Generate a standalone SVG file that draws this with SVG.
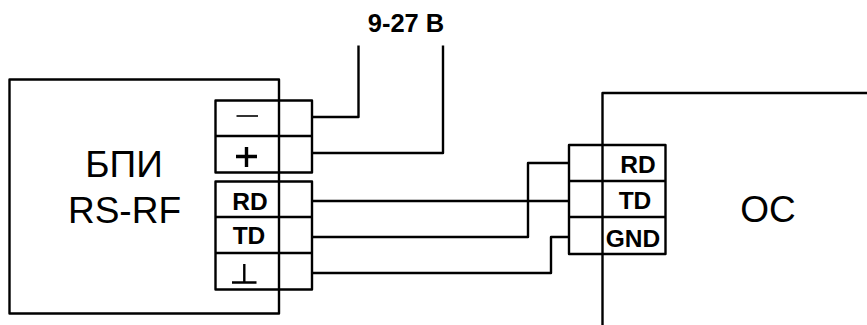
<svg xmlns="http://www.w3.org/2000/svg" width="867" height="325" viewBox="0 0 867 325">
<style>
.l{fill:none;stroke:#000;stroke-width:2.4;stroke-linejoin:round}
.t{font-family:"Liberation Sans",Arial,sans-serif;fill:#000;text-anchor:middle}
.b{font-size:37px}
.s{font-size:24.500px;font-weight:bold}
.v{font-size:25.500px;font-weight:bold}
</style>
<rect width="867" height="325" fill="#fff"/>
<g id="connectors">
<path class="l" d="M312 117H358.500V45.500"/>
<path class="l" d="M312 153H443V45.500"/>
<path class="l" d="M312 201H569"/>
<path class="l" d="M312 237H528V163H569"/>
<path class="l" d="M312 273H551V237H569"/>
</g>
<g id="power-label"><text class="t v" x="406" y="32">9-27 В</text></g>
<g id="bpi">
<rect class="l" x="9.500" y="79.500" width="269.500" height="234"/>
<text class="t b" x="124" y="177">БПИ</text>
<text class="t b" x="124.500" y="223">RS-RF</text>
</g>
<g id="bpi-power-terminal">
<rect class="l" x="215.500" y="100.500" width="96.500" height="72"/>
<path class="l" d="M215.500 136H312"/>
<path d="M236.500 116H258" fill="none" stroke="#000" stroke-width="1.600"/>
<path d="M236 156.500H257M246.500 147V167" fill="none" stroke="#000" stroke-width="3.400"/>
</g>
<g id="bpi-data-terminal">
<rect class="l" x="215.500" y="181.500" width="96.500" height="108"/>
<path class="l" d="M215.500 217H312M215.500 253H312"/>
<text class="t s" x="250" y="210">RD</text>
<text class="t s" x="249" y="244">TD</text>
<path class="l" d="M232 282.500H256.500M244.300 264V282.500"/>
</g>
<g id="os">
<path class="l" d="M867 93H602.500V325"/>
<text class="t b" x="768" y="221.500">ОС</text>
</g>
<g id="os-terminal">
<rect class="l" x="569" y="145" width="96.500" height="109"/>
<path class="l" d="M569 181H665.500M569 217H665.500"/>
<text class="t s" x="638" y="172.500">RD</text>
<text class="t s" x="635" y="209">TD</text>
<text class="t s" x="633" y="247">GND</text>
</g>
</svg>
